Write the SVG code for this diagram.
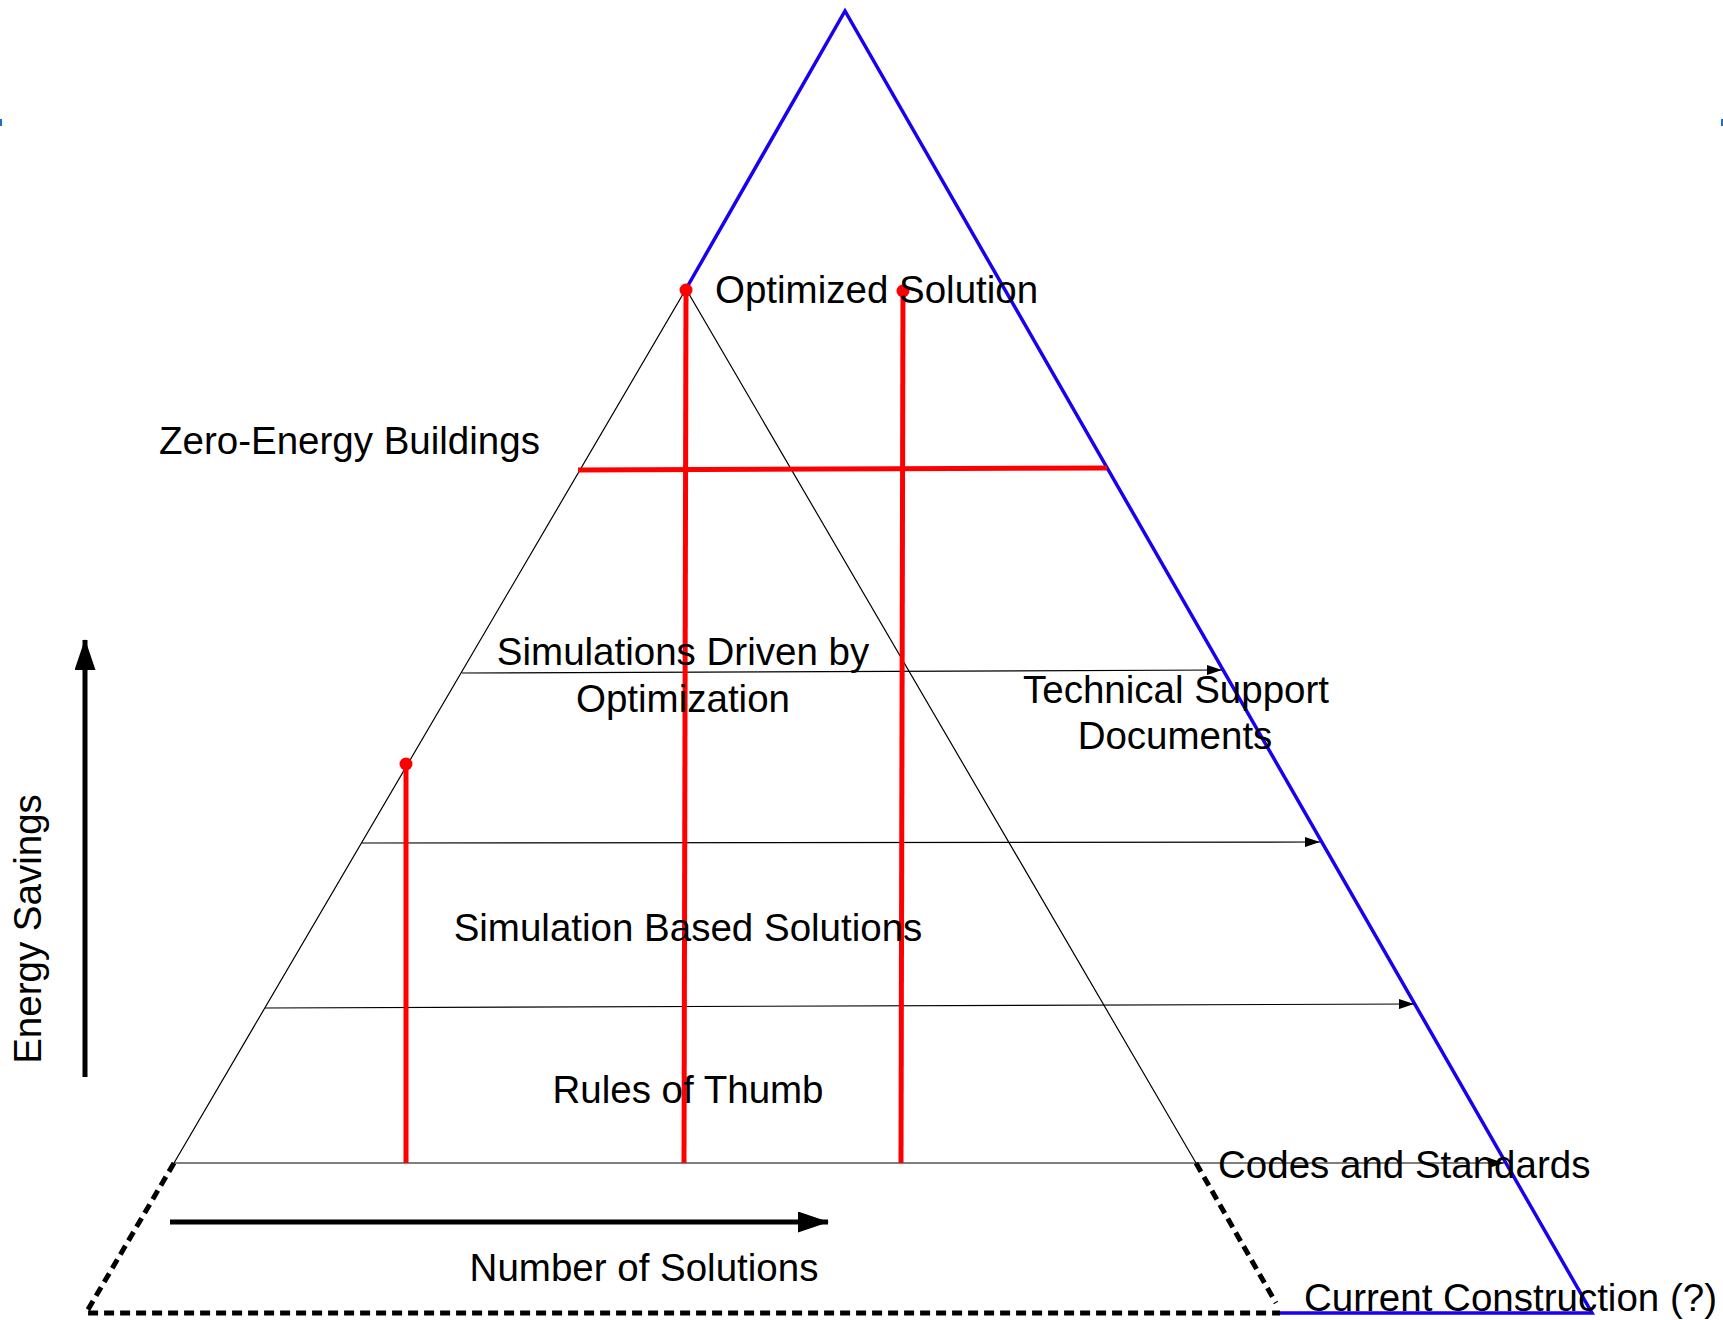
<svg xmlns="http://www.w3.org/2000/svg" width="1723" height="1320" viewBox="0 0 1723 1320">
<defs>
<marker id="sm" viewBox="0 0 15 10" refX="15" refY="5" markerWidth="15" markerHeight="10" markerUnits="userSpaceOnUse" orient="auto"><path d="M0,0 L15,5 L0,10 Z" fill="#000"/></marker>
<marker id="big" viewBox="0 0 31 21" refX="30" refY="10.5" markerWidth="31" markerHeight="21" markerUnits="userSpaceOnUse" orient="auto"><path d="M0,0 L31,10.5 L0,21 Z" fill="#000"/></marker>
</defs>
<style>
.t{font-family:"Liberation Sans",Arial,sans-serif;font-size:38.5px;fill:#000}
.thin{stroke:#000;stroke-width:1.2;fill:none}
.red{stroke:#f00;stroke-width:5;fill:none}
.blue{stroke:#1a00f0;stroke-width:3.5;fill:none}
.dash{stroke:#000;stroke-width:5;stroke-dasharray:10 6;fill:none}
.axis{stroke:#000;stroke-width:5;fill:none}
</style>
<rect width="1723" height="1320" fill="#fff"/>
<rect x="0" y="119" width="2" height="7" fill="#1f6fc0"/>
<rect x="1721" y="119" width="2" height="7" fill="#1f6fc0"/>
<g id="connectors">
<polyline class="blue" points="686,289 845,11 1592,1313 1280,1313"/>
<polyline class="thin" points="174,1163 686,289 1196,1163"/>
<path class="dash" d="M174,1163 L86,1313 L1280,1313 M1196,1163 L1276,1303"/>
<line class="thin" x1="462" y1="673" x2="1222" y2="670" marker-end="url(#sm)"/>
<line class="thin" x1="362" y1="843" x2="1320" y2="842" marker-end="url(#sm)"/>
<line class="thin" x1="265" y1="1008" x2="1414" y2="1004" marker-end="url(#sm)"/>
<line class="thin" x1="174" y1="1163" x2="1504" y2="1163" marker-end="url(#sm)"/>
<line class="red" x1="578" y1="470" x2="1107" y2="468"/>
<line class="red" x1="686" y1="289" x2="684" y2="1163"/>
<line class="red" x1="903" y1="290" x2="901" y2="1163"/>
<line class="red" x1="406" y1="764" x2="406" y2="1163"/>
<line class="axis" x1="85" y1="1077" x2="85" y2="640" marker-end="url(#big)"/>
<line class="axis" x1="170" y1="1222" x2="828" y2="1222" marker-end="url(#big)"/>
</g>
<g id="dots" fill="#f00">
<circle cx="686" cy="290" r="6.5"/>
<circle cx="903" cy="291" r="6.5"/>
<circle cx="406" cy="764" r="6.5"/>
</g>
<g id="n-optimized"><text class="t" x="715" y="303">Optimized Solution</text></g>
<g id="n-zero"><text class="t" x="159" y="454">Zero-Energy Buildings</text></g>
<g id="n-simopt"><text class="t" x="683" y="665" text-anchor="middle">Simulations Driven by</text><text class="t" x="683" y="712" text-anchor="middle">Optimization</text></g>
<g id="n-tsd"><text class="t" x="1176" y="703" text-anchor="middle">Technical Support</text><text class="t" x="1175" y="749" text-anchor="middle">Documents</text></g>
<g id="n-simbased"><text class="t" x="688" y="941" text-anchor="middle">Simulation Based Solutions</text></g>
<g id="n-rules"><text class="t" x="688" y="1103" text-anchor="middle">Rules of Thumb</text></g>
<g id="n-codes"><text class="t" x="1218" y="1178">Codes and Standards</text></g>
<g id="n-number"><text class="t" x="644" y="1281" text-anchor="middle">Number of Solutions</text></g>
<g id="n-current"><text class="t" x="1304" y="1311">Current Construction (?)</text></g>
<g id="n-energy"><text class="t" transform="translate(41,929) rotate(-90)" text-anchor="middle">Energy Savings</text></g>
</svg>
